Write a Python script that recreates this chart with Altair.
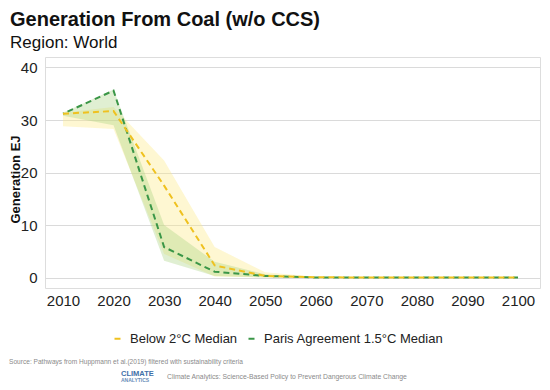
import altair as alt
import pandas as pd

years = [2010, 2020, 2030, 2040, 2050, 2060, 2070, 2080, 2090, 2100]
below2_median = [31.2, 31.7, 17.5, 2.3, 0.3, 0.05, 0.0, 0.0, 0.0, 0.0]
below2_low = [28.8, 28.3, 4.5, 0.2, 0.0, 0.0, 0.0, 0.0, 0.0, 0.0]
below2_high = [31.4, 32.5, 22.3, 5.8, 1.0, 0.15, 0.0, 0.0, 0.0, 0.0]
paris_median = [31.2, 35.6, 5.8, 1.1, 0.3, 0.0, 0.0, 0.0, 0.0, 0.0]
paris_low = [30.8, 29.0, 3.2, 0.3, 0.0, 0.0, 0.0, 0.0, 0.0, 0.0]
paris_high = [31.4, 35.8, 10.0, 3.0, 0.6, 0.05, 0.0, 0.0, 0.0, 0.0]

series_names = ["Below 2°C Median", "Paris Agreement 1.5°C Median"]
line_colors = ["#EFC11F", "#3A9647"]
band_colors = ["#FCE98A", "#A6D07E"]

title_text = "Generation From Coal (w/o CCS)"
subtitle_text = "Region: World"
y_title = "Generation EJ"
source_text = "Source: Pathways from Huppmann et al.(2019) filtered with sustainability criteria"
logo_top = "CLIMATE"
logo_bottom = "ANALYTICS"
tagline_text = "Climate Analytics: Science-Based Policy to Prevent Dangerous Climate Change"

rows = []
for i, yr in enumerate(years):
    rows.append({"year": yr, "series": series_names[0], "median": below2_median[i],
                 "low": below2_low[i], "high": below2_high[i]})
    rows.append({"year": yr, "series": series_names[1], "median": paris_median[i],
                 "low": paris_low[i], "high": paris_high[i]})
df = pd.DataFrame(rows)

FONT = "Liberation Sans"

xenc = alt.X("year:Q",
             scale=alt.Scale(domain=[2006.44, 2104.35], nice=False, zero=False),
             axis=alt.Axis(values=years, format="d", title=None, grid=False,
                           domain=False, ticks=False, labelFontSize=15,
                           labelColor="#222222", labelPadding=5, labelFont=FONT))
yscale = alt.Scale(domain=[-2, 42], nice=False, zero=False)
yaxis = alt.Axis(values=[0, 10, 20, 30, 40], title=y_title, grid=True,
                 gridColor="#DADADA", gridWidth=1, domain=False, ticks=False,
                 labelFontSize=15, labelColor="#222222", labelPadding=8,
                 labelFont=FONT, titleFont=FONT, titleFontSize=13,
                 titleFontWeight="bold", titleColor="#111111",
                 titleX=-30, titleY=122, titleAngle=270, titleAlign="center",
                 titleBaseline="middle")

base = alt.Chart(df)

band_y = base.transform_filter(alt.datum.series == series_names[0]).mark_area(
    color=band_colors[0], opacity=0.38).encode(
    x=xenc, y=alt.Y("low:Q", scale=yscale, axis=yaxis), y2="high:Q")
band_g = base.transform_filter(alt.datum.series == series_names[1]).mark_area(
    color=band_colors[1], opacity=0.35).encode(
    x=xenc, y=alt.Y("low:Q", scale=yscale, axis=yaxis), y2="high:Q")

color = alt.Color("series:N",
                  scale=alt.Scale(domain=series_names, range=line_colors),
                  legend=alt.Legend(title=None, orient="none", direction="horizontal",
                                    legendX=66, legendY=275, symbolType="stroke",
                                    symbolSize=36, symbolStrokeWidth=2,
                                    symbolDash=[1, 0], labelFontSize=13,
                                    labelFont=FONT, labelColor="#222222",
                                    labelLimit=400,
                                    labelOffset=6, columnPadding=6, padding=0))

line_g = base.transform_filter(alt.datum.series == series_names[1]).mark_line(
    strokeWidth=2, strokeDash=[6, 4], strokeDashOffset=5).encode(
    x=xenc, y=alt.Y("median:Q", scale=yscale, axis=yaxis), color=color)
line_y = base.transform_filter(alt.datum.series == series_names[0]).mark_line(
    strokeWidth=2, strokeDash=[6, 4]).encode(
    x=xenc, y=alt.Y("median:Q", scale=yscale, axis=yaxis), color=color)


def label(text, x, y, size, weight="normal", col="#111111", align="left"):
    return alt.Chart(pd.DataFrame({"t": [text]})).mark_text(
        align=align, baseline="alphabetic", fontSize=size, fontWeight=weight,
        color=col, font=FONT).encode(text="t:N", x=alt.value(x), y=alt.value(y))


texts = [
    label(title_text, -35, -31, 20, "bold"),
    label(subtitle_text, -35, -9, 17),
    label(source_text, -36, 307, 6.6, col="#8A8A8A"),
    label(logo_top, 76, 319, 7.5, "bold", col="#3E6FA8"),
    label(logo_bottom, 76, 324.5, 5, "bold", col="#6A8CB8"),
    label(tagline_text, 122, 322, 6.8, col="#8A8A8A"),
]

chart = alt.layer(band_y, band_g, line_g, line_y, *texts).properties(
    width=495, height=231,
    autosize=alt.AutoSizeParams(type="none"),
    padding={"left": 37, "top": 49, "right": 2, "bottom": 94},
).configure_view(stroke=None).configure(background="white")

chart.save("out.html", embed_options={"renderer": "svg", "actions": False})
